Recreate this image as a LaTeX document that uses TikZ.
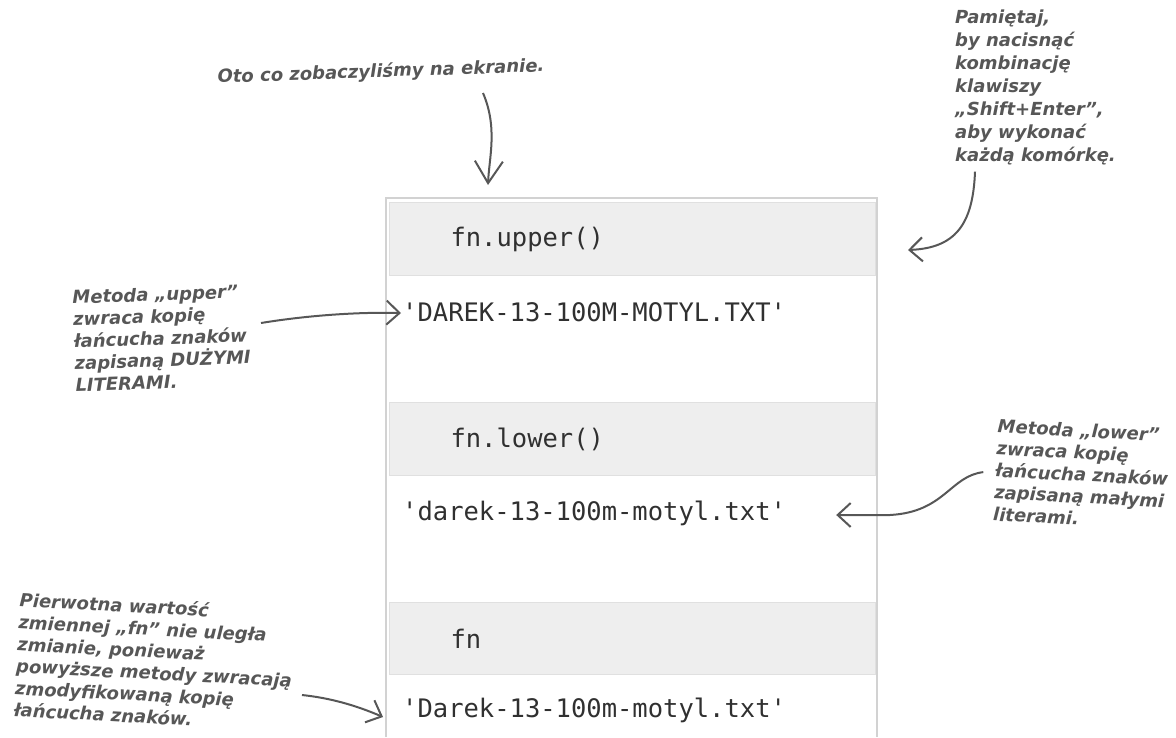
\documentclass[tikz,border=0pt]{standalone}
\usepackage{fontspec}
\newfontfamily\notefont{DejaVu Sans}
\newfontfamily\codefont{DejaVu Sans Mono}[Ligatures=TeXOff]
\usetikzlibrary{arrows.meta,calc}
\definecolor{notegray}{HTML}{575757}
\definecolor{codeink}{HTML}{303030}
\definecolor{cellgray}{HTML}{EEEEEE}
\definecolor{cellline}{HTML}{E0E0E0}
\definecolor{frameline}{HTML}{D2D2D2}
\tikzset{
  note/.style={font=\notefont\bfseries\itshape\fontsize{18}{22}\selectfont,
    text=notegray, align=left, inner sep=0pt},
  note arrow/.style={draw=notegray, line width=2pt,
    -{Straight Barb[length=13pt,width=24pt]}},
  incell/.style={fill=cellgray, draw=cellline, line width=1pt, anchor=north west,
    text width=364pt, inner xsep=61pt, minimum height=73pt, align=left,
    font=\codefont\fontsize{25.5}{30}\selectfont, text=codeink},
  outtext/.style={font=\codefont\fontsize{25.5}{30}\selectfont, text=codeink,
    anchor=base west, inner sep=0pt},
}

\begin{document}
\begin{tikzpicture}[x=1pt,y=-1pt]
\useasboundingbox (0,0) rectangle (1176,737);
% notebook cells
\draw [frameline,line width=2pt] (386,737) -- (386,198) -- (877,198) -- (877,737);
\node [incell] (in1) at (389,202) {fn.upper()};
\node [incell] (in2) at (389,402) {fn.lower()};
\node [incell,minimum height=72pt] (in3) at (389,602) {fn};
\node [outtext] (oup) at (402,321) {'DAREK-13-100M-MOTYL.TXT'};
\node [outtext] (olow) at (402,520) {'darek-13-100m-motyl.txt'};
\node [outtext] (ofn) at (402,717) {'Darek-13-100m-motyl.txt'};

% handwritten notes
\node [note,rotate=2] (oto) at (381,72) {Oto co zobaczyliśmy na ekranie.};
\node [note,anchor=north west,font=\notefont\bfseries\itshape\fontsize{18}{23}\selectfont] (shiftnote) at (955,10)
  {Pamiętaj,\\ by nacisnąć\\ kombinację\\ klawiszy\\ „Shift+Enter”,\\ aby wykonać\\ każdą komórkę.};
\node [note,anchor=north west,rotate=2] (upnote) at (72,290)
  {Metoda „upper”\\ zwraca kopię\\ łańcucha znaków\\ zapisaną DUŻYMI\\ LITERAMI.};
\node [note,anchor=north west,rotate=-3] (lownote) at (998,419)
  {Metoda „lower”\\ zwraca kopię\\ łańcucha znaków\\ zapisaną małymi\\ literami.};
\node [note,anchor=north west,rotate=-3] (fnnote) at (20,592)
  {Pierwotna wartość\\ zmiennej „fn” nie uległa\\ zmianie, ponieważ\\ powyższe metody zwracają\\ zmodyfikowaną kopię\\ łańcucha znaków.};

\coordinate (screen) at (488,185);
\coordinate (cellrun) at (908,250);
\draw [note arrow,-{Straight Barb[length=22pt,width=28pt]}] ($(oto)+(102,21)$) .. controls (498,128) and (489,158) .. (screen);
\draw [note arrow] ($(shiftnote.south west)+(20,6)$) .. controls (973,225) and (955,248) .. (cellrun);
\draw [note arrow] ($(oup.base west)+(-141,2)$) .. controls (310,315) and (360,312) .. ($(oup.base west)+(-1,-8)$);
\draw [note arrow] ($(lownote.west)+(-12,2)$) .. controls (950,476) and (945,512) .. (890,515) -- ($(olow.base east)+(50,-5)$);
\draw [note arrow] ($(ofn.base west)+(-100,-22)$) .. controls (330,698) and (355,705) .. ($(ofn.base west)+(-19,0)$);
\end{tikzpicture}
\end{document}
